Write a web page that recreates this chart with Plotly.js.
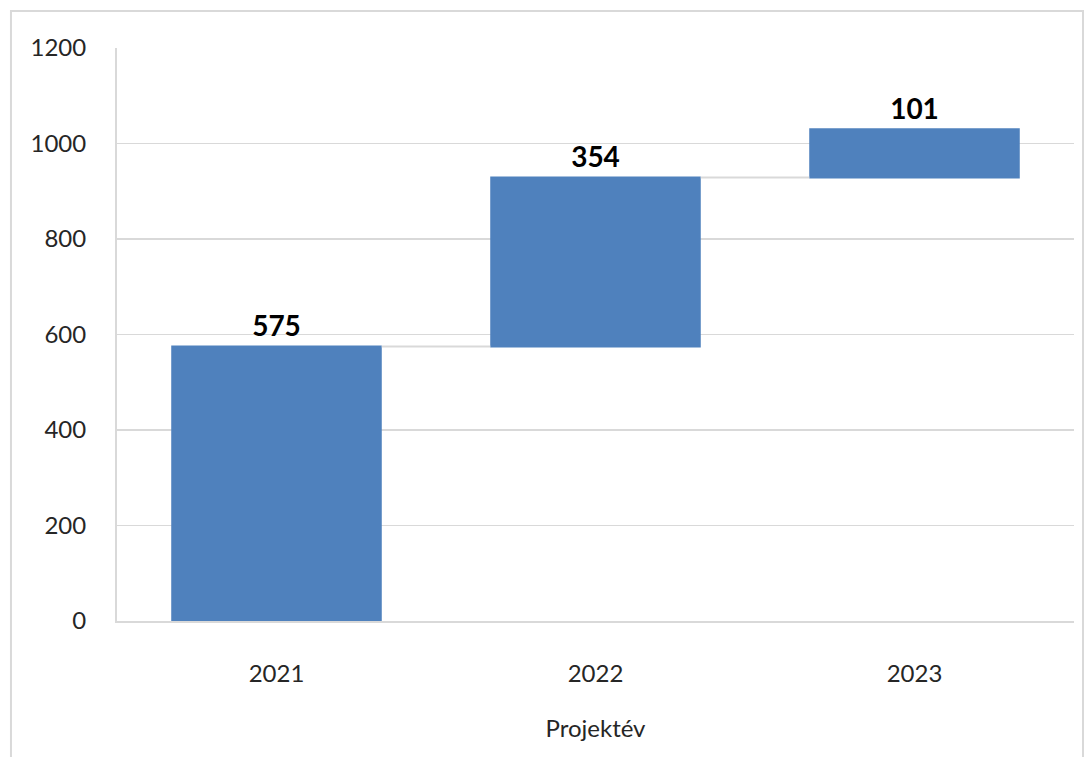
<!DOCTYPE html>
<html>
<head>
<meta charset="utf-8">
<script src="https://cdn.plot.ly/plotly-3.0.1.min.js"></script>
<style>html,body{margin:0;padding:0;background:#fff;}#chart{width:1084px;height:757px;}</style>
</head>
<body>
<div id="chart"></div>
<script>
const categories = ['2021', '2022', '2023'];
const values = [575, 354, 101];
const measures = ['relative', 'relative', 'relative'];
const yTicks = [0, 200, 400, 600, 800, 1000, 1200];
const xTitle = 'Projektév';

const font = 'Lato, "Open Sans", sans-serif';

const trace = {
  type: 'waterfall',
  x: categories,
  y: values,
  measure: measures,
  text: values.map(v => '<b>' + v + '</b>'),
  textposition: 'outside',
  textfont: {family: font, size: 28, color: '#000'},
  cliponaxis: false,
  increasing: {marker: {color: '#4f81bd', line: {width: 0}}},
  decreasing: {marker: {color: '#4f81bd', line: {width: 0}}},
  connector: {mode: 'between', line: {color: '#d9d9d9', width: 2}},
  hoverinfo: 'x+y'
};

const layout = {
  width: 1084, height: 757,
  margin: {l: 117, r: 10, t: 48, b: 136},
  paper_bgcolor: '#fff', plot_bgcolor: '#fff',
  showlegend: false,
  waterfallgap: 0.34,
  font: {family: font, size: 24, color: '#262626'},
  xaxis: {
    type: 'category',
    showgrid: false,
    showline: true, linecolor: '#d9d9d9', linewidth: 2,
    ticks: '', ticklen: 0,
    ticklabelstandoff: 30,
    tickfont: {family: font, size: 24, color: '#262626'},
    title: {text: xTitle, font: {family: font, size: 24, color: '#262626'}, standoff: 34},
    automargin: false
  },
  yaxis: {
    range: [0, 1200],
    tickvals: yTicks,
    showgrid: true, gridcolor: '#d9d9d9', gridwidth: 1.5,
    showline: true, linecolor: '#d9d9d9', linewidth: 2,
    zeroline: false,
    ticks: '',
    ticklabelstandoff: 24,
    tickfont: {family: font, size: 24, color: '#262626'},
    automargin: false
  },
  shapes: [{
    type: 'rect', xref: 'paper', yref: 'paper',
    x0: -0.1108, x1: 1.0094, y0: -0.24, y1: 1.0646,
    line: {color: '#d9d9d9', width: 2}, fillcolor: 'rgba(0,0,0,0)', layer: 'below'
  }]
};

Plotly.newPlot('chart', [trace], layout, {displayModeBar: false, staticPlot: true});
</script>
</body>
</html>
